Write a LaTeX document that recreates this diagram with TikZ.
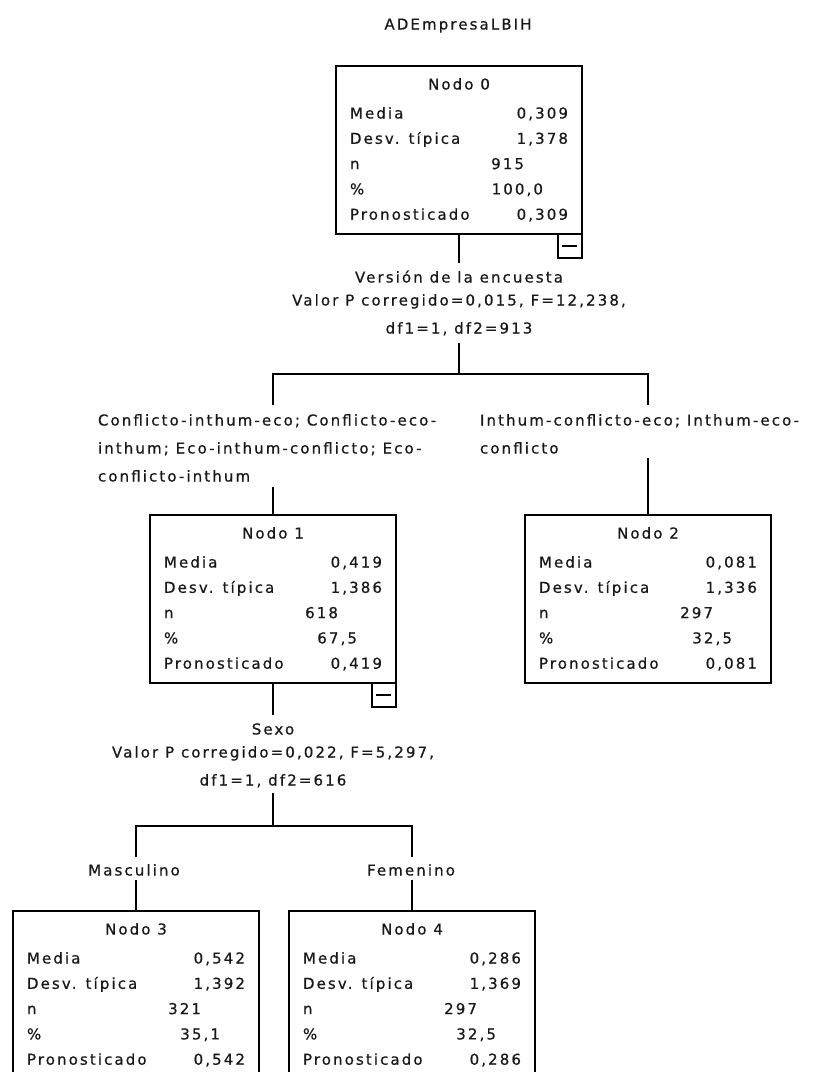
\documentclass[tikz,border=0pt]{standalone}
\usepackage{fontspec}
\setmainfont[LetterSpace=14,FakeBold=0.6]{DejaVu Sans}
\newcommand{\tfont}{\fontsize{15pt}{18pt}\selectfont}
\tikzset{
  box/.style={draw, line width=1.8pt, minimum width=246pt, minimum height=168pt, inner sep=0pt, outer sep=0pt},
  minusbox/.style={draw, line width=1.8pt, minimum width=24pt, minimum height=24pt, inner sep=0pt, outer sep=0pt, anchor=north east},
  txt/.style={inner sep=0pt, outer sep=0pt, font=\tfont, text=black!90},
  link/.style={line width=1.8pt, draw=black},
}
\newcommand{\treenode}[9]{%
  \node[box] (#1) at (#2+123,#3+84) {};
  \node[txt,anchor=base] (#1-t) at (#2+123,#3+23.5) {#4};
  \node[txt,anchor=base west] (#1-ml) at (#2+14,#3+52.5) {Media};
  \node[txt,anchor=base east] (#1-mv) at (#2+232,#3+52.5) {#5};
  \node[txt,anchor=base west] (#1-dl) at (#2+14,#3+77.8) {Desv. típica};
  \node[txt,anchor=base east] (#1-dv) at (#2+232,#3+77.8) {#6};
  \node[txt,anchor=base west] (#1-nl) at (#2+14,#3+103.1) {n};
  \node[txt,anchor=base east] (#1-nv) at (#2+188,#3+103.1) {#7};
  \node[txt,anchor=base west] (#1-pl) at (#2+14,#3+128.4) {\%};
  \node[txt,anchor=base east] (#1-pv) at (#2+207,#3+128.4) {#8};
  \node[txt,anchor=base west] (#1-rl) at (#2+14,#3+153.7) {Pronosticado};
  \node[txt,anchor=base east] (#1-rv) at (#2+232,#3+153.7) {#9};
}
\begin{document}
\begin{tikzpicture}[x=1pt,y=-1pt]
\useasboundingbox (0,0) rectangle (814,1072);
\clip (0,0) rectangle (814,1072);
\fill[white] (0,0) rectangle (814,1072);

\node[txt,anchor=base] (title) at (458,29.5) {ADEmpresaLBIH};

\treenode{n0}{336}{66}{Nodo 0}{0,309}{1,378}{915}{100,0}{0,309}
\treenode{n1}{150}{515}{Nodo 1}{0,419}{1,386}{618}{67,5}{0,419}
\treenode{n2}{525}{515}{Nodo 2}{0,081}{1,336}{297}{32,5}{0,081}
\treenode{n3}{13}{911}{Nodo 3}{0,542}{1,392}{321}{35,1}{0,542}
\treenode{n4}{289}{911}{Nodo 4}{0,286}{1,369}{297}{32,5}{0,286}

% collapse boxes
\node[minusbox] (n0-x) at (n0.south east) {};
\draw[link] ([xshift=4pt]n0-x.west) -- ([xshift=-5pt]n0-x.east);
\node[minusbox] (n1-x) at (n1.south east) {};
\draw[link] ([xshift=4pt]n1-x.west) -- ([xshift=-5pt]n1-x.east);

% split of node 0
\node[txt,anchor=base] (s0a) at (459,282.5) {Versión de la encuesta};
\node[txt,anchor=base] (s0b) at (459,305.5) {Valor P corregido=0,015, F=12,238,};
\node[txt,anchor=base] (s0c) at (459,333.5) {df1=1, df2=913};

\coordinate (a0) at (459,263);
\coordinate (b0) at (459,343);
\coordinate (j0) at (459,374);
\coordinate (j1) at (273,374);
\coordinate (j2) at (648,374);
\coordinate (c1) at (273,405);
\coordinate (c2) at (648,405);
\coordinate (d1) at (273,487);
\coordinate (d2) at (648,458);

\draw[link] (n0.south) -- (a0);
\draw[link] (b0) -- (j0);
\draw[link] (c1) -- (j1) -- (j2) -- (c2);
\draw[link] (d1) -- (n1.north);
\draw[link] (d2) -- (n2.north);

\node[txt,anchor=base west] (l1a) at (98,425.5) {Conflicto-inthum-eco; Conflicto-eco-};
\node[txt,anchor=base west] (l1b) at (98,453.5) {inthum; Eco-inthum-conflicto; Eco-};
\node[txt,anchor=base west] (l1c) at (98,481.5) {conflicto-inthum};
\node[txt,anchor=base west] (l2a) at (480,425.5) {Inthum-conflicto-eco; Inthum-eco-};
\node[txt,anchor=base west] (l2b) at (480,453.5) {conflicto};

% split of node 1
\node[txt,anchor=base] (s1a) at (273,734.5) {Sexo};
\node[txt,anchor=base] (s1b) at (273,757.5) {Valor P corregido=0,022, F=5,297,};
\node[txt,anchor=base] (s1c) at (273,785.5) {df1=1, df2=616};

\coordinate (a1) at (273,715);
\coordinate (b1) at (273,793);
\coordinate (j3) at (273,826);
\coordinate (j4) at (136,826);
\coordinate (j5) at (412,826);
\coordinate (c3) at (136,857);
\coordinate (c4) at (412,857);
\coordinate (d3) at (136,880);
\coordinate (d4) at (412,880);

\draw[link] (n1.south) -- (a1);
\draw[link] (b1) -- (j3);
\draw[link] (c3) -- (j4) -- (j5) -- (c4);
\draw[link] (d3) -- (n3.north);
\draw[link] (d4) -- (n4.north);

\node[txt,anchor=base] (m3) at (134,875.5) {Masculino};
\node[txt,anchor=base] (f4) at (411,875.5) {Femenino};
\end{tikzpicture}
\end{document}
